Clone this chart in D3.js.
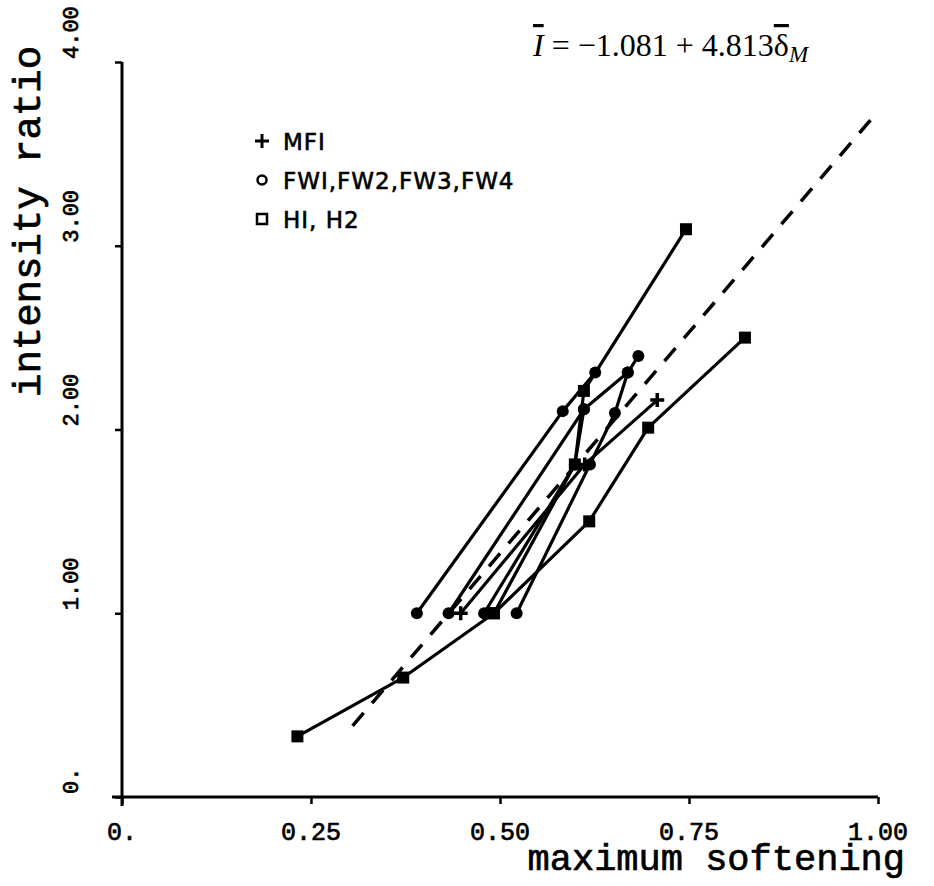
<html>
<head>
<script src="https://d3js.org/d3.v7.min.js"></script>
<style>
body {margin:0; background:white;}
.mono {font-family:"Liberation Mono", monospace; stroke:#000; stroke-width:0.7px;}
.leg {font-family:"DejaVu Sans", sans-serif; font-size:23px; letter-spacing:1px; stroke:#000; stroke-width:0.6px;}
.eq {font-family:"Liberation Serif", serif; font-size:32px;}
</style>
</head>
<body>
<svg width="934" height="886"></svg>
<script>
// data: [maximum softening, intensity ratio]
var MF1 = [[0.448,1.00],[0.612,1.81],[0.708,2.16]];
var FW1 = [[0.390,1.00],[0.583,2.10],[0.626,2.31]];
var FW2 = [[0.432,1.00],[0.611,2.11],[0.669,2.31],[0.683,2.40]];
var FW3 = [[0.522,1.00],[0.619,1.81],[0.652,2.09],[0.669,2.31]];
var FW4 = [[0.479,1.00],[0.599,1.81],[0.611,2.11]];
var H1 = [[0.492,1.00],[0.599,1.81],[0.611,2.21],[0.746,3.09]];
var H2 = [[0.232,0.33],[0.372,0.65],[0.492,1.00],[0.618,1.50],[0.696,2.01],[0.824,2.50]];
var fitA = -1.081, fitB = 4.813;
var fitRange = [0.305, 1.00];
var xTicks = [0, 0.25, 0.5, 0.75, 1.0];
var xTickLabels = ["0.", "0.25", "0.50", "0.75", "1.00"];
var yTicks = [0, 1, 2, 3, 4];
var yTickLabels = ["0.", "1.00", "2.00", "3.00", "4.00"];
var legendLabels = ["MFI", "FWI,FW2,FW3,FW4", "HI, H2"];

var svg = d3.select("svg");
var x = d3.scaleLinear().domain([0,1]).range([122,878]);
var y = d3.scaleLinear().domain([0,4]).range([797,62]);

// axes
var xAxis = d3.axisBottom(x).tickValues(xTicks).tickSize(7).tickFormat("");
var yAxis = d3.axisLeft(y).tickValues(yTicks).tickSize(7).tickFormat("");
var gx = svg.append("g").attr("transform","translate(0,797)").call(xAxis);
var gy = svg.append("g").attr("transform","translate(122,0)").call(yAxis);
[gx, gy].forEach(function(g) {
  g.select(".domain").attr("stroke","#000").attr("stroke-width",3);
  g.selectAll(".tick line").attr("stroke","#000").attr("stroke-width",2.5);
});
gx.select(".domain").attr("d","M112,0H878");
gy.select(".domain").attr("d","M0,806V62");

svg.selectAll(".xlab").data(xTicks).enter().append("text")
  .attr("class","mono").attr("font-size",25)
  .attr("x", function(d){return x(d);}).attr("y",840)
  .attr("text-anchor","middle")
  .text(function(d,i){return xTickLabels[i];});

svg.selectAll(".ylab").data(yTicks).enter().append("text")
  .attr("class","mono").attr("font-size",22)
  .attr("transform", function(d){return "translate(78," + (y(d)-3) + ") rotate(-90)";})
  .attr("text-anchor","start")
  .text(function(d,i){return yTickLabels[i];});

svg.append("text").attr("class","mono").attr("font-size",37)
  .attr("x",905).attr("y",870).attr("text-anchor","end").text("maximum softening");
svg.append("text").attr("class","mono").attr("font-size",39)
  .attr("transform","translate(40,397) rotate(-90)").attr("text-anchor","start")
  .text("intensity ratio");

// fitted line
svg.append("line")
  .attr("x1", x(fitRange[0])).attr("y1", y(fitA + fitB*fitRange[0]))
  .attr("x2", x(fitRange[1])).attr("y2", y(fitA + fitB*fitRange[1]))
  .attr("stroke","#000").attr("stroke-width",3.5).attr("stroke-dasharray","17,13");

var line = d3.line().x(function(d){return x(d[0]);}).y(function(d){return y(d[1]);});
var series = [
  {data:MF1, mark:"plus"}, {data:FW1, mark:"circle"}, {data:FW2, mark:"circle"},
  {data:FW3, mark:"circle"}, {data:FW4, mark:"circle"},
  {data:H1, mark:"square"}, {data:H2, mark:"square"}
];
series.forEach(function(s) {
  svg.append("path").attr("d", line(s.data)).attr("fill","none")
    .attr("stroke","#000").attr("stroke-width",3.2).attr("stroke-linejoin","round");
});

function drawMark(g, mark, cx, cy) {
  if (mark === "circle") {
    g.append("circle").attr("cx",cx).attr("cy",cy).attr("r",6).attr("fill","#000").attr("stroke","none");
  } else if (mark === "square") {
    g.append("rect").attr("x",cx-6).attr("y",cy-6).attr("width",12).attr("height",12)
      .attr("fill","#000").attr("stroke","none");
  } else {
    g.append("path").attr("d","M"+(cx-7)+","+cy+"H"+(cx+7)+"M"+cx+","+(cy-7)+"V"+(cy+7))
      .attr("stroke","#000").attr("stroke-width",3.5);
  }
}
var gm = svg.append("g");
series.forEach(function(s) {
  s.data.forEach(function(d) { drawMark(gm, s.mark, x(d[0]), y(d[1])); });
});

// legend
var legMarks = ["plus", "circle", "square"];
legendLabels.forEach(function(t, i) {
  var ly = 141 + i*39;
  var lg = svg.append("g");
  if (legMarks[i] === "plus") {
    lg.append("path").attr("d","M255,"+ly+"H269M262,"+(ly-7)+"V"+(ly+7))
      .attr("stroke","#000").attr("stroke-width",3);
  } else if (legMarks[i] === "circle") {
    lg.append("circle").attr("cx",262).attr("cy",ly).attr("r",4.5)
      .attr("fill","none").attr("stroke","#000").attr("stroke-width",2.5);
  } else {
    lg.append("rect").attr("x",257).attr("y",ly-5).attr("width",10).attr("height",10)
      .attr("fill","none").attr("stroke","#000").attr("stroke-width",2.5);
  }
  svg.append("text").attr("class","leg").attr("x",283).attr("y",ly+9).text(t);
});

// equation
var eq = svg.append("text").attr("class","eq").attr("x",533).attr("y",56);
eq.append("tspan").attr("font-style","italic").attr("text-decoration","overline").text("I");
eq.append("tspan").text(" = \u22121.081 + 4.813");
eq.append("tspan").attr("text-decoration","overline").text("\u03b4");
eq.append("tspan").attr("font-style","italic").attr("font-size",23).attr("dy",6).text("M");
</script>
</body>
</html>
